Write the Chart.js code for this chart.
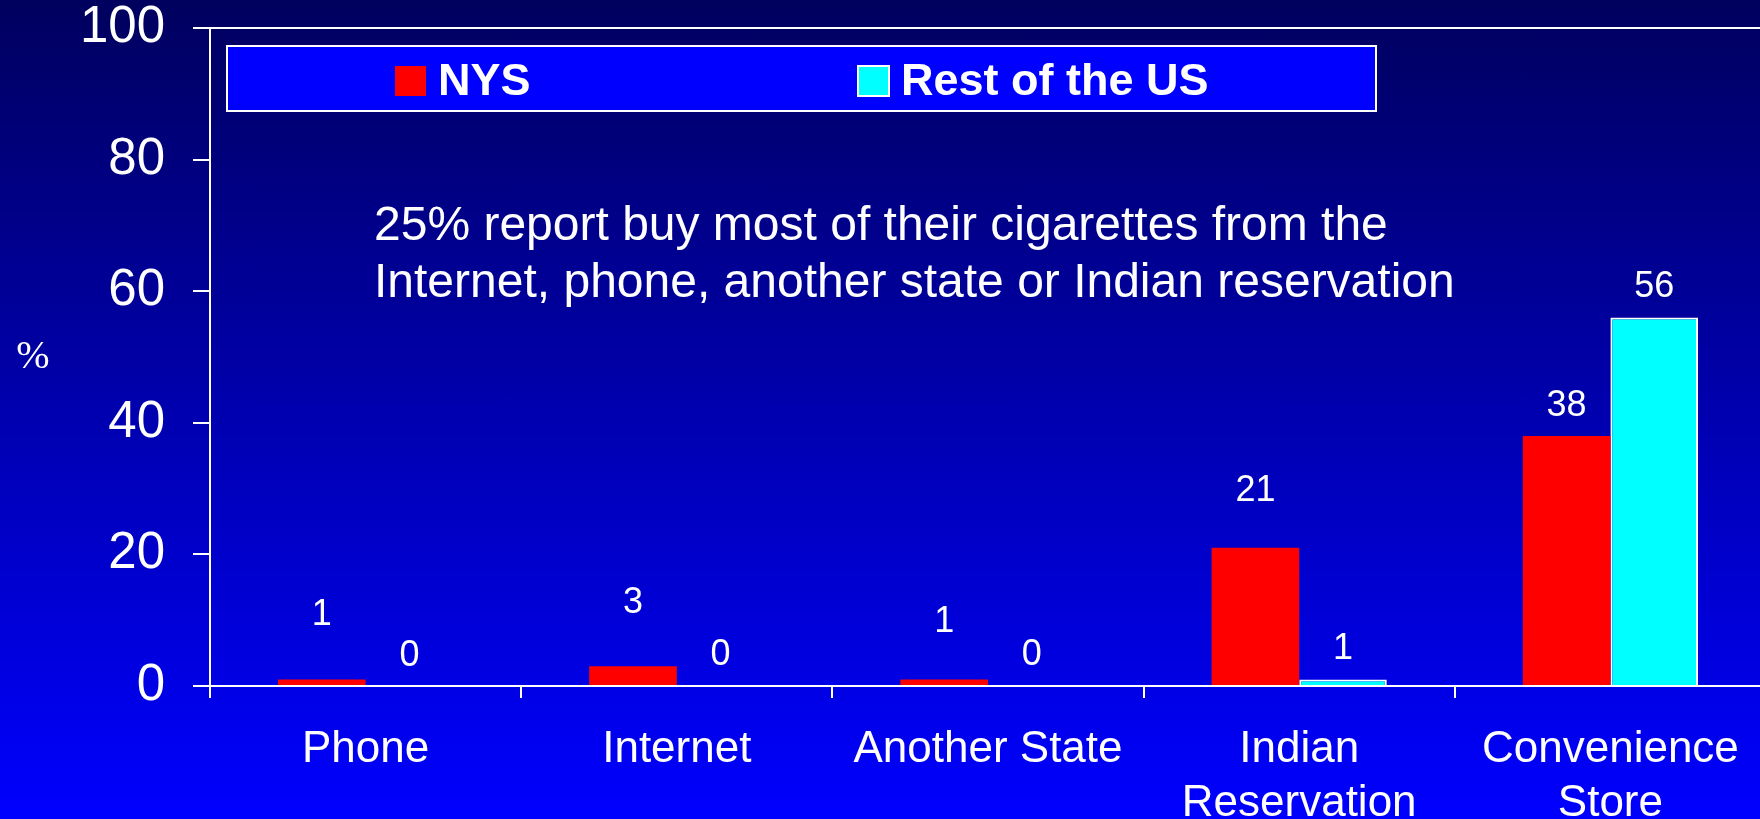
<!DOCTYPE html>
<html>
<head>
<meta charset="utf-8">
<title>Where smokers buy cigarettes</title>
<script src="https://cdn.jsdelivr.net/npm/chart.js@4.4.0/dist/chart.umd.min.js"></script>
<style>
    html, body {
        margin: 0;
        padding: 0;
        width: 1760px;
        height: 819px;
        overflow: hidden;
        background: linear-gradient(to bottom, #00005e 0%, #0000ff 100%);
    }
    #wrap { width: 1780px; height: 819px; }
</style>
</head>
<body>
<div id="wrap"><canvas id="outlets" width="1780" height="819"></canvas></div>
<script>
const categories = ['Phone', 'Internet', 'Another State', ['Indian', 'Reservation'], ['Convenience', 'Store']];
const nysValues = [1, 3, 1, 21, 38];
const restOfUsValues = [0, 0, 0, 1, 56];
const yTicks = [0, 20, 40, 60, 80, 100];
const noteLines = [
    '25% report buy most of their cigarettes from the',
    'Internet, phone, another state or Indian reservation'
];

const SANS = '"Liberation Sans", Arial, Helvetica, sans-serif';
Chart.defaults.font.family = SANS;
Chart.defaults.color = '#ffffff';

// numbers above each bar, lifted by a per-bar distance
const valueLabels = {
    id: 'valueLabels',
    afterDatasetsDraw(chart, args, opts) {
        const { ctx } = chart;
        ctx.save();
        ctx.fillStyle = '#ffffff';
        ctx.font = `${opts.size}px ${SANS}`;
        ctx.textAlign = 'center';
        ctx.textBaseline = 'middle';
        chart.data.datasets.forEach((ds, di) => {
            chart.getDatasetMeta(di).data.forEach((bar, i) => {
                ctx.fillText(String(ds.data[i]), bar.x, bar.y - opts.lift[di][i]);
            });
        });
        ctx.restore();
    }
};

// boxed legend across the top of the plot
const boxLegend = {
    id: 'boxLegend',
    afterDraw(chart) {
        const { ctx, chartArea } = chart;
        const x = chartArea.left + 17, y = chartArea.top + 18, w = 1149, h = 65;
        ctx.save();
        ctx.fillStyle = '#0000ff';
        ctx.fillRect(x, y, w, h);
        ctx.strokeStyle = '#ffffff';
        ctx.lineWidth = 2;
        ctx.strokeRect(x, y, w, h);

        const starts = [168, 631];
        ctx.font = `bold 45px ${SANS}`;
        ctx.textBaseline = 'alphabetic';
        chart.data.datasets.forEach((ds, i) => {
            const sx = x + starts[i];
            ctx.fillStyle = ds.backgroundColor;
            ctx.fillRect(sx, y + 20, 31, 30);
            if (ds.borderWidth) {
                ctx.strokeStyle = '#ffffff';
                ctx.lineWidth = 2;
                ctx.strokeRect(sx, y + 20, 31, 30);
            }
            ctx.fillStyle = '#ffffff';
            ctx.fillText(ds.label, sx + 43, y + 49);
        });
        ctx.restore();
    }
};

// free text note and the "%" axis mark
const notes = {
    id: 'notes',
    afterDraw(chart) {
        const { ctx } = chart;
        ctx.save();
        ctx.fillStyle = '#ffffff';
        ctx.font = `48px ${SANS}`;
        ctx.textAlign = 'left';
        ctx.textBaseline = 'alphabetic';
        noteLines.forEach((line, i) => ctx.fillText(line, 374, 240 + i * 57));

        ctx.font = '40px "Liberation Serif", "Times New Roman", serif';
        ctx.textAlign = 'center';
        ctx.textBaseline = 'middle';
        ctx.fillText('%', 33, 357);
        ctx.restore();
    }
};

new Chart(document.getElementById('outlets'), {
    type: 'bar',
    data: {
        labels: categories,
        datasets: [
            {
                label: 'NYS',
                data: nysValues,
                backgroundColor: '#ff0000',
                borderWidth: 0
            },
            {
                label: 'Rest of the US',
                data: restOfUsValues,
                backgroundColor: '#00ffff',
                borderColor: '#ffffff',
                borderWidth: 2
            }
        ]
    },
    options: {
        responsive: false,
        animation: false,
        devicePixelRatio: 1,
        categoryPercentage: 0.563,
        barPercentage: 1.0,
        layout: { padding: { left: 0, right: 14, top: 28, bottom: 0 } },
        plugins: {
            legend: { display: false },
            tooltip: { enabled: false },
            valueLabels: {
                size: 36,
                lift: [[64, 63, 57, 57, 30], [30, 31, 31, 30, 30]]
            }
        },
        scales: {
            x: {
                grid: {
                    display: true,
                    drawOnChartArea: false,
                    offset: true,
                    color: '#ffffff',
                    lineWidth: 2,
                    tickLength: 12
                },
                border: { color: '#ffffff', width: 2 },
                ticks: {
                    color: '#ffffff',
                    font: { size: 44, lineHeight: 1.22 },
                    padding: 25,
                    maxRotation: 0,
                    autoSkip: false
                },
                afterFit(scale) { scale.height = 133; }
            },
            y: {
                min: 0,
                max: 100,
                afterBuildTicks(scale) {
                    scale.ticks = yTicks.map(v => ({ value: v }));
                },
                grid: {
                    color: ctx => (ctx.tick && ctx.tick.value === 100 ? '#ffffff' : 'rgba(0,0,0,0)'),
                    tickColor: '#ffffff',
                    lineWidth: 2,
                    tickLength: 17
                },
                border: { color: '#ffffff', width: 2 },
                ticks: {
                    color: '#ffffff',
                    font: { size: 51, lineHeight: 1.12 },
                    padding: 28
                },
                afterFit(scale) {
                    scale.width = 210;
                    scale.paddingTop = 0;
                    scale.paddingBottom = 0;
                }
            }
        }
    },
    plugins: [valueLabels, boxLegend, notes]
});
</script>
</body>
</html>
